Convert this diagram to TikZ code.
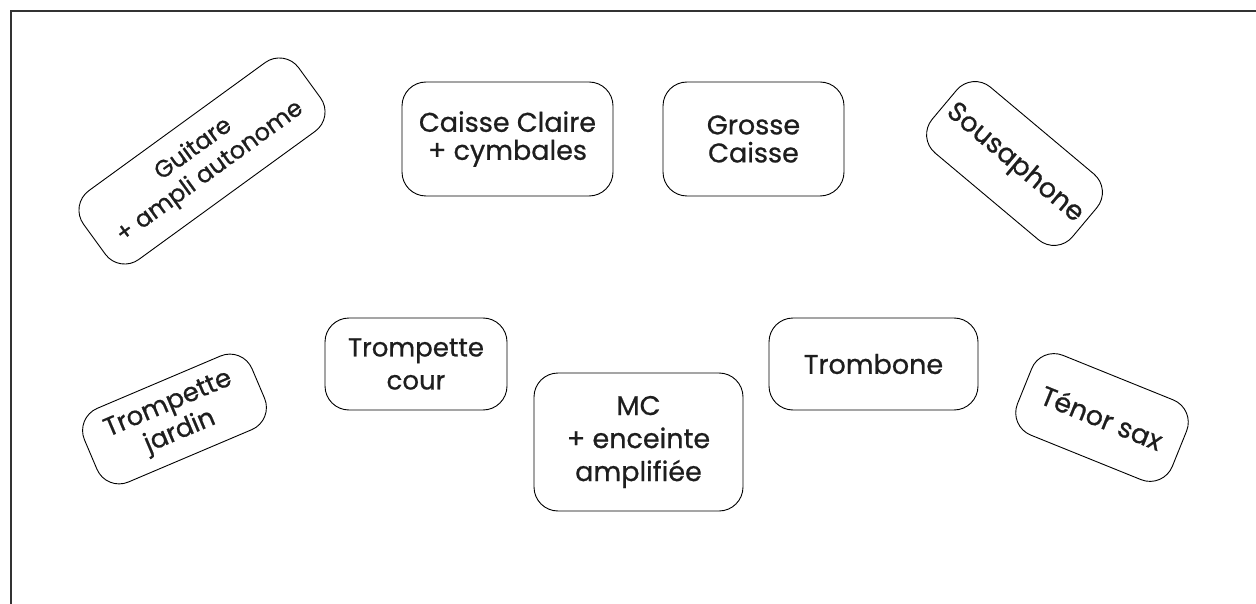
\documentclass[tikz,border=0pt]{standalone}
\usepackage{fontspec}
\setmainfont{Poppins}[FakeBold=0.7]
\definecolor{frame}{HTML}{333333}
\definecolor{ink}{HTML}{1E1E1E}
\tikzset{
  card/.style={draw=black, line width=0.9pt, rounded corners=24pt, align=center,
    inner sep=0pt, text=ink, font=\fontsize{27}{31}\selectfont},
}
\begin{document}
\begin{tikzpicture}[x=1pt,y=-1pt]
\useasboundingbox (0,0) rectangle (1256,604);
\fill[white] (0,0) rectangle (1256,604);
\coordinate (fa) at (11,604);
\coordinate (fb) at (11,11);
\coordinate (fc) at (1256,11);
\draw[frame, line width=2.5pt] (fa) -- (fb) -- (fc);

\node[card, rotate=36, minimum width=266pt, minimum height=85pt,
  font=\fontsize{24}{28}\selectfont] (guit) at (202,161) {Guitare\\+ ampli autonome};
\node[card, minimum width=211pt, minimum height=114pt,
  font=\fontsize{27}{28}\selectfont] (cc) at (507.5,139) {Caisse Claire\\+ cymbales};
\node[card, minimum width=181pt, minimum height=114pt,
  font=\fontsize{27}{28}\selectfont] (gc) at (753.5,139) {Grosse\\Caisse};
\node[card, rotate=-40, minimum width=183pt, minimum height=86pt] (sou) at (1014.5,163.5) {Sousaphone};

\node[card, rotate=23, minimum width=182pt, minimum height=80pt,
  font=\fontsize{26}{30}\selectfont] (tj) at (174.5,419) {Trompette\\jardin};
\node[card, minimum width=182pt, minimum height=92pt,
  font=\fontsize{26}{33}\selectfont] (tc) at (416,364) {Trompette\\cour};
\node[card, minimum width=209pt, minimum height=138pt,
  font=\fontsize{27}{33}\selectfont] (mc) at (638.5,442) {MC\\+ enceinte\\amplifiée};
\node[card, minimum width=209pt, minimum height=92pt] (tb) at (873.5,364) {Trombone};
\node[card, rotate=-22, minimum width=167pt, minimum height=86pt] (ts) at (1102,417.5) {Ténor sax};
\end{tikzpicture}
\end{document}
